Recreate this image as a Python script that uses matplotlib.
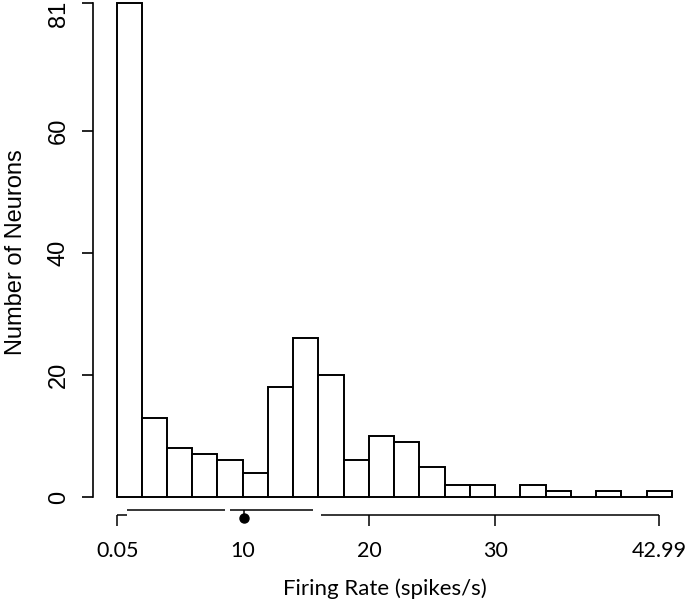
import matplotlib
matplotlib.use("Agg")
import matplotlib.pyplot as plt
import matplotlib.transforms as mtransforms
import numpy as np

# Histogram data (bin width 2 spikes/s)
bin_edges = [0, 2, 4, 6, 8, 10, 12, 14, 16, 18, 20, 22, 24, 26, 28, 30,
             32, 34, 36, 38, 40, 42, 44]
counts = [81, 13, 8, 7, 6, 4, 18, 26, 20, 6, 10, 9, 5, 2, 2, 0,
          2, 1, 0, 1, 0, 1]

# Axis ticks
x_ticks = [0.05, 10, 20, 30, 42.99]
x_tick_labels = ["0.05", "10", "20", "30", "42.99"]
y_ticks = [0, 20, 40, 60, 81]
y_tick_labels = ["0", "20", "40", "60", "81"]

# Quartile-frame axis (min, lower segment end, offset segments, upper segment start, max)
q_min = 0.05
q_low_end = 0.8
q_mid1 = (0.8, 8.6)
q_mid2 = (9.0, 15.6)
q_high_start = 16.2
q_max = 42.99
median = 10.1

W, H = 686, 612
fig = plt.figure(figsize=(W / 100, H / 100), dpi=100)

x0_px = 116.5
ppu_x = 12.62
xl = (93 - x0_px) / ppu_x
xr = 44.6
ax_left = 93 / W
ax_w = (xr - xl) * ppu_x / W
ppu_y = 6.1
ytop = 81.5
ax_h_px = ytop * ppu_y
ax_bottom = (H - 497) / H
ax = fig.add_axes([ax_left, ax_bottom, ax_w, ax_h_px / H])
ax.set_xlim(xl, xr)
ax.set_ylim(0, ytop)

edges = np.array(bin_edges)
widths = np.diff(edges)
ax.bar(edges[:-1], counts, width=widths, align="edge", facecolor="white",
       edgecolor="black", linewidth=1.4, clip_on=False)

for s in ["top", "right", "bottom"]:
    ax.spines[s].set_visible(False)
ax.spines["left"].set_bounds(0, 81)
ax.spines["left"].set_linewidth(1.2)

# y ticks
ax.set_yticks(y_ticks)
ax.set_yticklabels(y_tick_labels, rotation=90, va="center",
                   fontfamily="Liberation Sans", fontsize=17)
ax.tick_params(axis="y", length=7.7, width=1.2, pad=9)
# top label is nudged down to stay inside the figure, as in the original
top_lab = ax.yaxis.get_major_ticks()[-1].label1
top_lab.set_transform(top_lab.get_transform() +
                      mtransforms.ScaledTranslation(0, -11 / 100,
                                                    fig.dpi_scale_trans))

# x ticks (labels only, marks drawn by hand)
ax.set_xticks(x_ticks)
ax.set_xticklabels(x_tick_labels, fontfamily="Lato", fontsize=15.5)
ax.tick_params(axis="x", length=0, pad=31.5)


def py(pix):
    return (497 - pix) / ppu_y

lw = 1.1
y_lo = py(515)
y_up = py(510)
y_tick_end = py(526)
kw = dict(color="black", linewidth=lw, clip_on=False, solid_capstyle="butt")
ax.plot([q_min, q_low_end], [y_lo, y_lo], **kw)
ax.plot(list(q_mid1), [y_up, y_up], **kw)
ax.plot(list(q_mid2), [y_up, y_up], **kw)
ax.plot([q_high_start, q_max], [y_lo, y_lo], **kw)
for t in [q_min, 20, 30, q_max]:
    ax.plot([t, t], [y_lo, y_tick_end], **kw)
ax.plot([median, median], [y_up, py(518)], **kw)
ax.plot([median], [py(517.5)], marker="o", markersize=6.5, color="black",
        clip_on=False)

fig.text(385 / W, 1 - 595 / H, "Firing Rate (spikes/s)", ha="center",
         va="baseline", fontfamily="Lato", fontsize=16)
fig.text(16 / W, 1 - 252.5 / H, "Number of Neurons", ha="center", va="center",
         rotation=90, fontfamily="Liberation Sans", fontsize=17)

fig.savefig("out.png", dpi=100)
